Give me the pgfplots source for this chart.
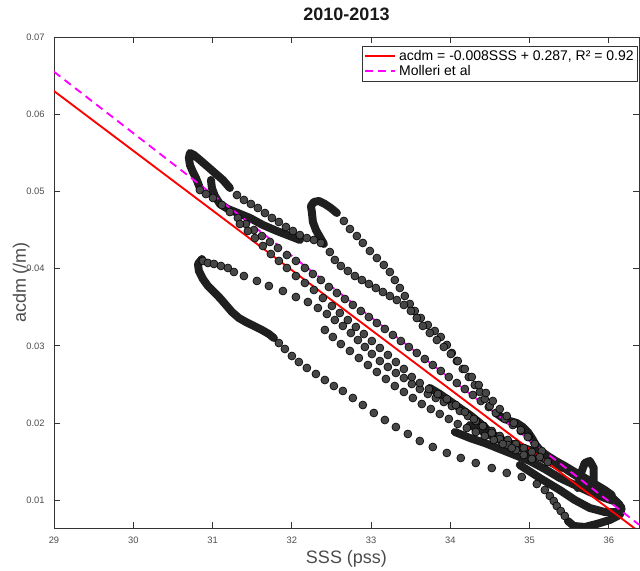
\documentclass[border=0pt]{standalone}
\usepackage{fontspec}
\setmainfont{Liberation Sans}
\usepackage{pgfplots}
\pgfplotsset{compat=1.18}
\definecolor{axgray}{gray}{0.2}
\definecolor{txtgray}{gray}{0.3}
\definecolor{mag}{rgb}{1,0,1}
\definecolor{fitred}{rgb}{1,0,0}
\begin{document}
\begin{tikzpicture}
\pgfplotsset{
  dots/.style={only marks, mark=*, mark size=3pt, mark options={fill=black!72, draw=black, line width=0.45pt}, forget plot},
  band/.style={no markers, line width=6pt, black!88, line cap=round, line join=round, forget plot},
}
\begin{axis}[
  scale only axis, width=438.75pt, height=368.25pt,
  xmin=29, xmax=36.38, ymin=0.0064, ymax=0.07,
  xtick={29,30,31,32,33,34,35,36},
  ytick={0.01,0.02,0.03,0.04,0.05,0.06,0.07},
  yticklabels={0.01,0.02,0.03,0.04,0.05,0.06,0.07},
  scaled y ticks=false,
  /pgf/number format/assume math mode=true,
  tick align=inside, major tick length=4.5pt,
  axis line style={axgray, line width=0.7pt},
  tick style={axgray, line width=0.7pt},
  ticklabel style={font=\fontsize{7}{8}\selectfont, text=txtgray},
  yticklabel style={xshift=-3.5pt},
  xticklabel style={yshift=-3pt},
  title={\textbf{2010-2013}},
  title style={font=\fontsize{13.5}{15}\selectfont, text=black!90, at={(axis description cs:0.5,1.0163)}, anchor=base},
  xlabel={SSS (pss)},
  xlabel style={font=\fontsize{13.5}{15}\selectfont, text=txtgray, at={(axis description cs:0.5,-0.0713)}, anchor=base},
  ylabel={acdm (/m)},
  ylabel style={font=\fontsize{13.5}{15}\selectfont, text=txtgray, at={(axis description cs:-0.0479,0.5)}, anchor=base},
  legend style={at={(axis description cs:1,1)}, anchor=north east, xshift=-0.75pt, yshift=-6.75pt,
    draw=black!80, font=\fontsize{10.5}{11}\selectfont, inner sep=1pt, row sep=-2pt,
    /tikz/every even column/.append style={column sep=1pt}},
  legend cell align=left,
  legend image code/.code={\draw[#1, line width=1.4pt] (0pt,0pt) -- (23pt,0pt);},
]
% ---------- loop A (upper left) ----------
\addplot[band] coordinates {(30.841,0.05044) (30.791,0.05174) (30.753,0.05251) (30.715,0.05342) (30.702,0.05433) (30.715,0.05497) (30.765,0.05472) (30.841,0.05407) (30.929,0.05329) (31.030,0.05238) (31.131,0.05148) (31.219,0.05044)};
\addplot[dots] coordinates {(31.308,0.04953) (31.396,0.04889) (31.484,0.04837) (31.572,0.04785) (31.661,0.04720) (31.749,0.04656) (31.837,0.04604) (31.926,0.04539) (32.014,0.04487) (32.102,0.04435) (32.190,0.04396) (32.279,0.04371) (32.367,0.04332)};
\addplot[band] coordinates {(30.980,0.05148) (30.992,0.05044) (31.030,0.04940) (31.093,0.04837) (31.194,0.04772) (31.320,0.04720) (31.472,0.04656) (31.635,0.04565) (31.812,0.04487) (31.976,0.04422) (32.102,0.04371)};
\addplot[dots] coordinates {(30.841,0.05018) (30.917,0.04966) (31.005,0.04915) (31.118,0.04824) (31.219,0.04733) (31.320,0.04656) (31.421,0.04578) (31.522,0.04500) (31.623,0.04422) (31.724,0.04345) (31.825,0.04267) (31.938,0.04176) (32.052,0.04099) (32.165,0.04008) (32.266,0.03930) (32.367,0.03852) (32.468,0.03762) (32.569,0.03684) (32.670,0.03606) (32.770,0.03529) (32.871,0.03451) (32.972,0.03373) (33.073,0.03295) (33.174,0.03218) (33.275,0.03140) (33.376,0.03062) (33.477,0.02984) (33.577,0.02907) (33.678,0.02829) (33.779,0.02751) (33.880,0.02674) (33.981,0.02596) (34.082,0.02518) (34.183,0.02440) (34.284,0.02363) (34.385,0.02285) (34.485,0.02207) (34.586,0.02130) (34.687,0.02052) (34.788,0.01974) (34.889,0.01897) (34.990,0.01819)};
% ---------- loop B (middle) ----------
\addplot[band] coordinates {(32.569,0.04720) (32.493,0.04785) (32.417,0.04837) (32.342,0.04876) (32.279,0.04863) (32.241,0.04811) (32.253,0.04733) (32.266,0.04604) (32.304,0.04500) (32.354,0.04409) (32.405,0.04319)};
\addplot[dots] coordinates {(32.657,0.04617) (32.733,0.04513) (32.821,0.04422) (32.896,0.04332) (32.985,0.04228) (33.073,0.04137) (33.161,0.04047) (33.237,0.03956) (33.300,0.03852) (33.363,0.03749) (33.426,0.03645) (33.489,0.03542) (33.552,0.03451) (33.628,0.03360) (33.716,0.03270) (33.804,0.03192) (33.880,0.03114) (33.956,0.03011) (34.019,0.02907) (34.082,0.02803) (34.157,0.02700) (34.233,0.02596) (34.309,0.02492) (34.372,0.02402) (34.435,0.02311) (34.498,0.02220) (34.574,0.02130)};
\addplot[band] coordinates {(34.574,0.02130) (34.662,0.02065) (34.750,0.02026) (34.838,0.02000) (34.914,0.01948) (34.977,0.01884) (35.028,0.01806) (35.078,0.01715) (35.141,0.01637) (35.229,0.01573) (35.330,0.01508) (35.444,0.01443) (35.570,0.01365) (35.696,0.01288) (35.822,0.01210) (35.948,0.01132) (36.036,0.01068)};
\addplot[dots] coordinates {(32.480,0.04215) (32.543,0.04112) (32.619,0.04034) (32.707,0.03969) (32.796,0.03904) (32.884,0.03852) (32.972,0.03801) (33.060,0.03749) (33.149,0.03697) (33.237,0.03645) (33.325,0.03593) (33.414,0.03529) (33.502,0.03451) (33.577,0.03360) (33.653,0.03257) (33.741,0.03166) (33.830,0.03075) (33.918,0.02985) (34.006,0.02894) (34.094,0.02803) (34.183,0.02700) (34.271,0.02596) (34.359,0.02492) (34.448,0.02389) (34.536,0.02285) (34.624,0.02181) (34.712,0.02091) (34.801,0.02000) (34.889,0.01909) (34.977,0.01819) (35.065,0.01728) (35.154,0.01637)};
% ---------- strands below the fit ----------
\addplot[dots] coordinates {(30.879,0.04099) (30.942,0.04073) (31.018,0.04060) (31.106,0.04034) (31.194,0.04008) (31.270,0.03956) (31.396,0.03904) (31.560,0.03840) (31.711,0.03775) (31.888,0.03710) (32.052,0.03632) (32.203,0.03567) (32.329,0.03490) (32.443,0.03412) (32.543,0.03334) (32.644,0.03257) (32.745,0.03166) (32.834,0.03075) (32.922,0.02985) (33.010,0.02894) (33.111,0.02803) (33.212,0.02726) (33.313,0.02648) (33.414,0.02583) (33.514,0.02505) (33.615,0.02441) (33.716,0.02376) (33.817,0.02324) (33.918,0.02272) (34.019,0.02220) (34.120,0.02156) (34.221,0.02091) (34.321,0.02026) (34.422,0.01961) (34.523,0.01897) (34.624,0.01832) (34.725,0.01780) (34.826,0.01728) (34.927,0.01676) (35.028,0.01625) (35.128,0.01560) (35.229,0.01495)};
\addplot[dots] coordinates {(31.345,0.04578) (31.446,0.04487) (31.535,0.04396) (31.635,0.04293) (31.736,0.04189) (31.837,0.04099) (31.938,0.04008) (32.052,0.03904) (32.165,0.03814) (32.279,0.03723) (32.392,0.03619) (32.506,0.03516) (32.606,0.03425) (32.707,0.03334) (32.808,0.03244) (32.909,0.03153) (33.010,0.03062) (33.111,0.02972) (33.212,0.02881) (33.313,0.02790) (33.414,0.02700) (33.514,0.02596) (33.615,0.02518) (33.729,0.02440) (33.842,0.02376) (33.956,0.02311) (34.069,0.02233) (34.183,0.02143) (34.296,0.02052) (34.410,0.01961) (34.523,0.01871) (34.624,0.01793) (34.725,0.01715) (34.826,0.01650) (34.927,0.01586) (35.028,0.01534)};
\addplot[dots] coordinates {(32.417,0.03205) (32.518,0.03114) (32.619,0.03023) (32.733,0.02933) (32.846,0.02842) (32.960,0.02751) (33.073,0.02661) (33.187,0.02570) (33.300,0.02479) (33.414,0.02402) (33.527,0.02324) (33.640,0.02246) (33.754,0.02181) (33.867,0.02117) (33.981,0.02052) (34.094,0.01987) (34.208,0.01935) (34.321,0.01884) (34.435,0.01832) (34.548,0.01780) (34.662,0.01728) (34.775,0.01676)};
% ---------- loop C (lower left) ----------
\addplot[band] coordinates {(30.866,0.04124) (30.816,0.04060) (30.828,0.03969) (30.879,0.03865) (30.942,0.03775) (31.018,0.03697) (31.093,0.03619) (31.169,0.03529) (31.245,0.03438) (31.333,0.03360) (31.421,0.03308) (31.522,0.03257) (31.623,0.03205) (31.711,0.03153) (31.774,0.03101)};
\addplot[dots] coordinates {(31.837,0.03036) (31.913,0.02959) (32.001,0.02868) (32.089,0.02790) (32.190,0.02713) (32.304,0.02635) (32.417,0.02557) (32.531,0.02479) (32.644,0.02415) (32.770,0.02324) (32.896,0.02233) (33.035,0.02130) (33.174,0.02039) (33.313,0.01948) (33.464,0.01858) (33.615,0.01767) (33.779,0.01689) (33.956,0.01612) (34.132,0.01547) (34.321,0.01482) (34.523,0.01417) (34.712,0.01353) (34.901,0.01301) (35.091,0.01210) (35.192,0.01132) (35.255,0.01055) (35.305,0.00990) (35.343,0.00925) (35.393,0.00860) (35.444,0.00796)};
% ---------- dense cluster (lower right) ----------
\addplot[band] coordinates {(33.741,0.02454) (33.867,0.02376) (33.994,0.02285) (34.120,0.02194) (34.246,0.02104) (34.372,0.02000) (34.498,0.01884) (34.624,0.01793) (34.775,0.01728) (34.939,0.01650) (35.103,0.01573) (35.255,0.01495) (35.406,0.01417)};
\addplot[band] coordinates {(34.057,0.01884) (34.246,0.01806) (34.435,0.01741) (34.624,0.01663) (34.813,0.01586) (35.002,0.01508) (35.192,0.01404) (35.381,0.01288) (35.570,0.01197) (35.759,0.01106) (35.948,0.01029) (36.099,0.00977) (36.162,0.00899) (36.137,0.00808) (36.011,0.00744) (35.847,0.00692) (35.696,0.00653) (35.557,0.00666) (35.482,0.00731)};
\addplot[band] coordinates {(34.246,0.01974) (34.624,0.01780) (35.002,0.01650) (35.318,0.01495) (35.570,0.01327) (35.822,0.01171) (36.036,0.01042) (36.137,0.00938)};
\addplot[band] coordinates {(34.876,0.01456) (35.128,0.01288) (35.381,0.01132) (35.570,0.01003) (35.759,0.00899) (35.948,0.00847) (36.112,0.00847)};
\addplot[band] coordinates {(35.608,0.01158) (35.645,0.01340) (35.696,0.01482) (35.759,0.01508) (35.809,0.01417) (35.809,0.01262) (35.759,0.01132)};
% ---------- lines ----------
\addplot[fitred, line width=1.4pt] coordinates {(29,0.0630) (36.38,0.00593)};
\addlegendentry{acdm = -0.008SSS + 0.287, R² = 0.92}
\addplot[mag, line width=1.4pt, dash pattern=on 6pt off 4pt] coordinates {(29,0.0655) (36.38,0.00683)};
\addlegendentry{Molleri et al}
\end{axis}
\pgfresetboundingbox
\path[use as bounding box] ([xshift=-40.5pt,yshift=-32.25pt]current axis.south west) rectangle ([xshift=0.75pt,yshift=27.75pt]current axis.north east);
\end{tikzpicture}
\end{document}
